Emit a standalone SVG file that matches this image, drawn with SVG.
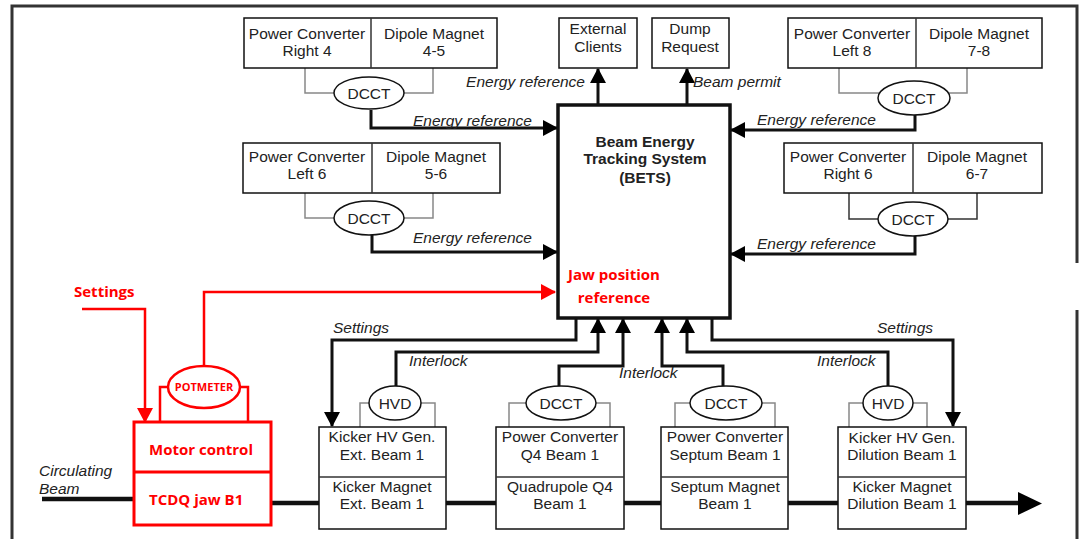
<svg xmlns="http://www.w3.org/2000/svg" width="1085" height="539" viewBox="0 0 1085 539">
<defs>
<marker id="ah" viewBox="0 0 15 16" refX="14" refY="8" markerWidth="15" markerHeight="16" orient="auto" markerUnits="userSpaceOnUse"><path d="M0,0 L15,8 L0,16 z" fill="#000"/></marker>
<marker id="ahr" viewBox="0 0 15 16" refX="14" refY="8" markerWidth="15" markerHeight="16" orient="auto" markerUnits="userSpaceOnUse"><path d="M0,0 L15,8 L0,16 z" fill="#f00"/></marker>
<style>
.box{fill:#fff;stroke:#111;stroke-width:1.5}
.t{font-family:"Liberation Sans",Arial,sans-serif;font-size:15.5px;fill:#222;text-anchor:middle}
.i{font-family:"Liberation Sans",Arial,sans-serif;font-size:15.5px;fill:#222;font-style:italic}
.bt{font-family:"Liberation Sans",Arial,sans-serif;font-size:15.5px;fill:#222;font-weight:bold;text-anchor:middle}
.r{font-family:"Open Sans","Noto Sans",sans-serif;font-size:15px;fill:#f00;font-weight:bold}
.g{stroke:#888;stroke-width:1.5;fill:none}
.d{stroke:#333;stroke-width:1.5;fill:none}
.c{stroke:#111;stroke-width:3;fill:none}
.rl{stroke:#f00;stroke-width:2.5;fill:none}
.beam{stroke:#111;stroke-width:4.5;fill:none}
</style>
</defs>
<rect width="1085" height="539" fill="#fff"/>
<g id="frame" fill="none" stroke="#333" stroke-width="3">
<path d="M12,539 V6 H1077 V263"/>
<path d="M1077,310 V539"/>
</g>

<g id="connectors">
<path class="g" d="M305,68 V93 H334 M433,68 V93 H404"/>
<path class="c" d="M371,110 V128 H557" marker-end="url(#ah)"/>
<path class="g" d="M305,193 V218 H334 M433,193 V218 H404"/>
<path class="c" d="M372,235 V252 H557" marker-end="url(#ah)"/>
<path class="c" d="M598,105 V69" marker-end="url(#ah)"/>
<path class="c" d="M687,105 V69" marker-end="url(#ah)"/>
<path class="g" d="M839,68 V93 H880 M967,68 V93 H948"/>
<path class="c" d="M915,115 V130 H731" marker-end="url(#ah)"/>
<path class="d" d="M849,193 V219 H878 M977,193 V219 H948"/>
<path class="c" d="M915,236 V254 H731" marker-end="url(#ah)"/>
<path class="rl" d="M82,309 H145 V422" marker-end="url(#ahr)"/>
<path class="rl" d="M204,366 V292 H555" marker-end="url(#ahr)"/>
<path class="rl" d="M168,387 H160 V422 M240,387 H248 V422"/>
<path class="g" d="M369,403 H360 V427 M421,403 H435 V427"/>
<path class="g" d="M526,403 H509 V427 M596,403 H610 V427"/>
<path class="g" d="M690,403 H675 V427 M762,403 H775 V427"/>
<path class="g" d="M863,403 H849 V427 M913,403 H927 V427"/>
<path class="c" d="M396,386 V352 H598 V319" marker-end="url(#ah)"/>
<path class="c" d="M559,386 V366 H623 V319" marker-end="url(#ah)"/>
<path class="c" d="M723,386 V366 H662 V319" marker-end="url(#ah)"/>
<path class="c" d="M888,386 V352 H687 V319" marker-end="url(#ah)"/>
<path class="c" d="M576,318 V340 H332 V426" marker-end="url(#ah)"/>
<path class="c" d="M712,318 V340 H953 V426" marker-end="url(#ah)"/>
<path class="beam" d="M42,499 H134 M271,503 H319 M446,503 H496 M624,503 H661 M788,503 H838 M966,503 H1020"/>
<polygon points="1018,492 1042,503.5 1018,515" fill="#000"/>
<text class="i" x="413" y="126">Energy reference</text>
<text class="i" x="413" y="243">Energy reference</text>
<text class="i" x="585" y="87" text-anchor="end">Energy reference</text>
<text class="i" x="693" y="87">Beam permit</text>
<text class="i" x="757" y="125">Energy reference</text>
<text class="i" x="757" y="249">Energy reference</text>
<text class="r" x="74" y="297">Settings</text>
<text class="r" x="614" y="280" text-anchor="middle">Jaw position</text>
<text class="r" x="614" y="303" text-anchor="middle">reference</text>
<text class="i" x="333" y="333">Settings</text>
<text class="i" x="877" y="333">Settings</text>
<text class="i" x="409" y="366">Interlock</text>
<text class="i" x="619" y="378">Interlock</text>
<text class="i" x="817" y="366">Interlock</text>
<text class="i" x="39" y="476" fill="#333">Circulating</text>
<text class="i" x="39" y="494" fill="#333">Beam</text>
</g>

<g id="pc-right4">
<rect class="box" x="244" y="18" width="253" height="50"/>
<line class="d" x1="371" y1="18" x2="371" y2="68"/>
<text class="t" x="307" y="39">Power Converter</text><text class="t" x="307" y="56">Right 4</text>
<text class="t" x="434" y="39">Dipole Magnet</text><text class="t" x="434" y="56">4-5</text>
</g>
<g id="dcct1"><ellipse class="box" cx="369" cy="93" rx="35" ry="16"/><text class="t" x="369" y="99">DCCT</text></g>

<g id="pc-left6">
<rect class="box" x="243" y="143" width="257" height="50"/>
<line class="d" x1="372" y1="143" x2="372" y2="193"/>
<text class="t" x="307" y="162">Power Converter</text><text class="t" x="307" y="179">Left 6</text>
<text class="t" x="436" y="162">Dipole Magnet</text><text class="t" x="436" y="179">5-6</text>
</g>
<g id="dcct2"><ellipse class="box" cx="369" cy="218" rx="35" ry="17"/><text class="t" x="369" y="224">DCCT</text></g>

<g id="external-clients">
<rect class="box" x="559" y="18" width="78" height="50"/>
<text class="t" x="598" y="34">External</text><text class="t" x="598" y="52">Clients</text>
</g>
<g id="dump-request">
<rect class="box" x="652" y="18" width="77" height="50"/>
<text class="t" x="690" y="34">Dump</text><text class="t" x="690" y="52">Request</text>
</g>

<g id="bets">
<rect x="558" y="105" width="172" height="213" fill="none" stroke="#111" stroke-width="3.5"/>
<text class="bt" x="645" y="147">Beam Energy</text>
<text class="bt" x="645" y="164">Tracking System</text>
<text class="bt" x="645" y="183">(BETS)</text>
</g>

<g id="pc-left8">
<rect class="box" x="788" y="18" width="254" height="50"/>
<line class="d" x1="916" y1="18" x2="916" y2="68"/>
<text class="t" x="852" y="39">Power Converter</text><text class="t" x="852" y="56">Left 8</text>
<text class="t" x="979" y="39">Dipole Magnet</text><text class="t" x="979" y="56">7-8</text>
</g>
<g id="dcct3"><ellipse class="box" cx="914" cy="98" rx="36" ry="17"/><text class="t" x="914" y="104">DCCT</text></g>

<g id="pc-right6">
<rect class="box" x="784" y="143" width="258" height="50"/>
<line class="d" x1="913" y1="143" x2="913" y2="193"/>
<text class="t" x="848" y="162">Power Converter</text><text class="t" x="848" y="179">Right 6</text>
<text class="t" x="977" y="162">Dipole Magnet</text><text class="t" x="977" y="179">6-7</text>
</g>
<g id="dcct4"><ellipse class="box" cx="913" cy="219" rx="35" ry="17"/><text class="t" x="913" y="225">DCCT</text></g>

<g id="potmeter">
<ellipse cx="204" cy="387" rx="36" ry="21" fill="#fff" stroke="#f00" stroke-width="2.5"/>
<text class="r" x="204" y="391" font-size="11" text-anchor="middle" style="font-size:11px">POTMETER</text>
</g>
<g id="tcdq">
<rect x="134" y="422" width="137" height="103" fill="#fff" stroke="#f00" stroke-width="3"/>
<line x1="134" y1="472" x2="271" y2="472" stroke="#f00" stroke-width="3"/>
<text class="r" x="149" y="455">Motor control</text>
<text class="r" x="149" y="505">TCDQ jaw B1</text>
</g>

<g id="hvd1"><ellipse class="box" cx="395" cy="403" rx="26" ry="17"/><text class="t" x="395" y="409">HVD</text></g>
<g id="dcct-q4"><ellipse class="box" cx="561" cy="403" rx="35" ry="17"/><text class="t" x="561" y="409">DCCT</text></g>
<g id="dcct-sep"><ellipse class="box" cx="726" cy="403" rx="36" ry="17"/><text class="t" x="726" y="409">DCCT</text></g>
<g id="hvd2"><ellipse class="box" cx="888" cy="403" rx="25" ry="17"/><text class="t" x="888" y="409">HVD</text></g>

<g id="kicker-ext">
<rect class="box" x="319" y="427" width="127" height="102"/>
<line class="d" x1="319" y1="477" x2="446" y2="477"/>
<text class="t" x="382" y="442">Kicker HV Gen.</text><text class="t" x="382" y="460">Ext. Beam 1</text>
<text class="t" x="382" y="492">Kicker Magnet</text><text class="t" x="382" y="509">Ext. Beam 1</text>
</g>
<g id="q4">
<rect class="box" x="496" y="427" width="128" height="102"/>
<line class="d" x1="496" y1="477" x2="624" y2="477"/>
<text class="t" x="560" y="442">Power Converter</text><text class="t" x="560" y="460">Q4 Beam 1</text>
<text class="t" x="560" y="492">Quadrupole Q4</text><text class="t" x="560" y="509">Beam 1</text>
</g>
<g id="septum">
<rect class="box" x="661" y="427" width="127" height="102"/>
<line class="d" x1="661" y1="477" x2="788" y2="477"/>
<text class="t" x="725" y="442">Power Converter</text><text class="t" x="725" y="460">Septum Beam 1</text>
<text class="t" x="725" y="492">Septum Magnet</text><text class="t" x="725" y="509">Beam 1</text>
</g>
<g id="kicker-dil">
<rect class="box" x="838" y="427" width="128" height="102"/>
<line class="d" x1="838" y1="477" x2="966" y2="477"/>
<text class="t" x="902" y="443">Kicker HV Gen.</text><text class="t" x="902" y="460">Dilution Beam 1</text>
<text class="t" x="902" y="492">Kicker Magnet</text><text class="t" x="902" y="509">Dilution Beam 1</text>
</g>
</svg>
